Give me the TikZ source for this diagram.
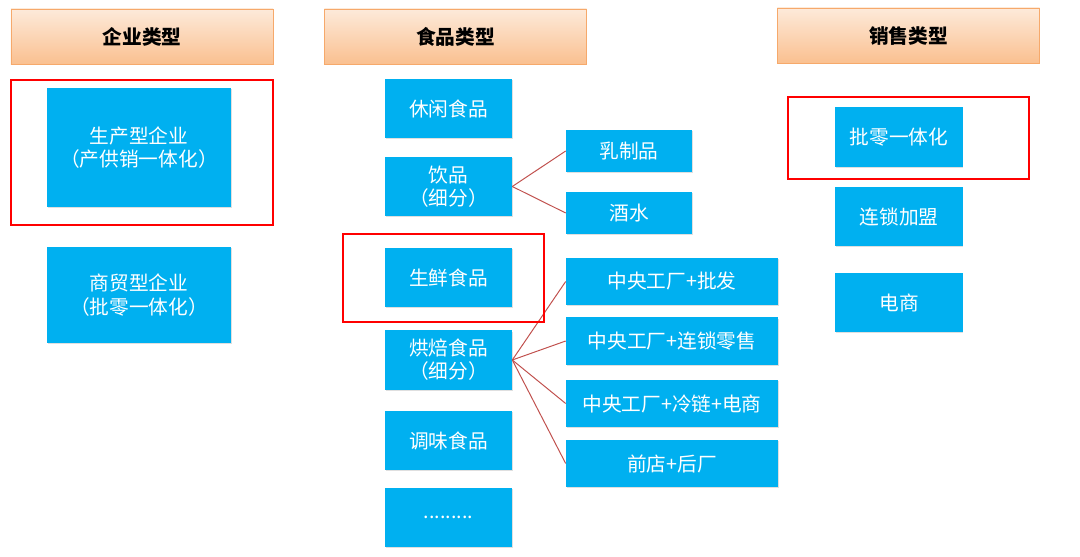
\documentclass[tikz,border=0pt]{standalone}
\usepackage{fontspec}
\setmainfont{Noto Sans CJK SC}
\definecolor{BoxBlue}{HTML}{00B0F0}
\definecolor{HeadTop}{HTML}{FDEADA}
\definecolor{HeadBot}{HTML}{FAC090}
\definecolor{HeadLine}{HTML}{F6A96B}
\definecolor{MarkRed}{HTML}{FF0000}
\definecolor{LinkRed}{HTML}{C0504D}
\usetikzlibrary{positioning,shadows}
\begin{document}
\begin{tikzpicture}[x=0.025cm, y=-0.025cm,
    font=\fontsize{14}{16.5}\selectfont,
    header/.style={draw=HeadLine, top color=HeadTop, bottom color=HeadBot,
      minimum width=6.55cm, minimum height=1.375cm, inner sep=0pt,
      font=\fontsize{14}{16.5}\selectfont\bfseries,
      drop shadow={opacity=0.25, shadow xshift=0.5pt, shadow yshift=-0.8pt}},
    item/.style={fill=BoxBlue, text=white, align=center, inner sep=0pt,
      drop shadow={opacity=0.25, shadow xshift=0.5pt, shadow yshift=-0.8pt}},
    food/.style={item, minimum width=3.175cm, minimum height=1.475cm},
    sub/.style={item, minimum width=3.15cm, minimum height=1.05cm},
    plant/.style={item, minimum width=5.3cm, minimum height=1.175cm},
    hilite/.style={draw=MarkRed, line width=1.4pt},
    branch/.style={draw=LinkRed, line width=0.7pt}]
      \useasboundingbox (0,0) rectangle (1080,557);
      % column headers
      \node[header] (hcorp) at (142,36.5) {企业类型};
      \node[header] (hfood) at (455.5,36.5) {食品类型};
      \node[header] (hsale) at (908.5,35.5) {销售类型};
      % enterprise types
      \node[item, minimum width=4.6cm, minimum height=2.975cm] (prod) at (139,147.5) {生产型企业\\（产供销一体化）};
      \node[item, minimum width=4.6cm, minimum height=2.4cm] (trade) at (139,295) {商贸型企业\\（批零一体化）};
      % food types
      \node[food] (snack) at (448.5,108.5) {休闲食品};
      \node[food] (drink) at (448.5,186.5) {饮品\\（细分）};
      \node[food] (fresh) at (448.5,277.5) {生鲜食品};
      \node[food] (bake) at (448.5,360) {烘焙食品\\（细分）};
      \node[food] (season) at (448.5,440.5) {调味食品};
      \node[food] (more) at (448.5,517.5) {.........};
      \node[sub] (dairy) at (629,151) {乳制品};
      \node[sub] (wine) at (629,213) {酒水};
      \node[plant] (wholesale) at (672,281.5) {中央工厂+批发};
      \node[plant] (chain) at (672,341) {中央工厂+连锁零售};
      \node[plant] (online) at (672,403.5) {中央工厂+冷链+电商};
      \node[plant] (shop) at (672,463.5) {前店+后厂};
      % sales types
      \node[food] (mixed) at (899,137) {批零一体化};
      \node[food] (franchise) at (899,216.5) {连锁加盟};
      \node[food] (ecom) at (899,302.5) {电商};
      % links
      \draw[branch] (drink.east) -- (dairy.west);
      \draw[branch] (drink.east) -- (wine.west);
      \foreach \t in {wholesale,chain,online,shop}
        \draw[branch] (bake.east) -- (\t.west);
      % highlights
      \draw[hilite] (11,80) rectangle (273,225);
      \draw[hilite] (343,234) rectangle (544,322);
      \draw[hilite] (788,97) rectangle (1029,179);
    \end{tikzpicture}
\end{document}
